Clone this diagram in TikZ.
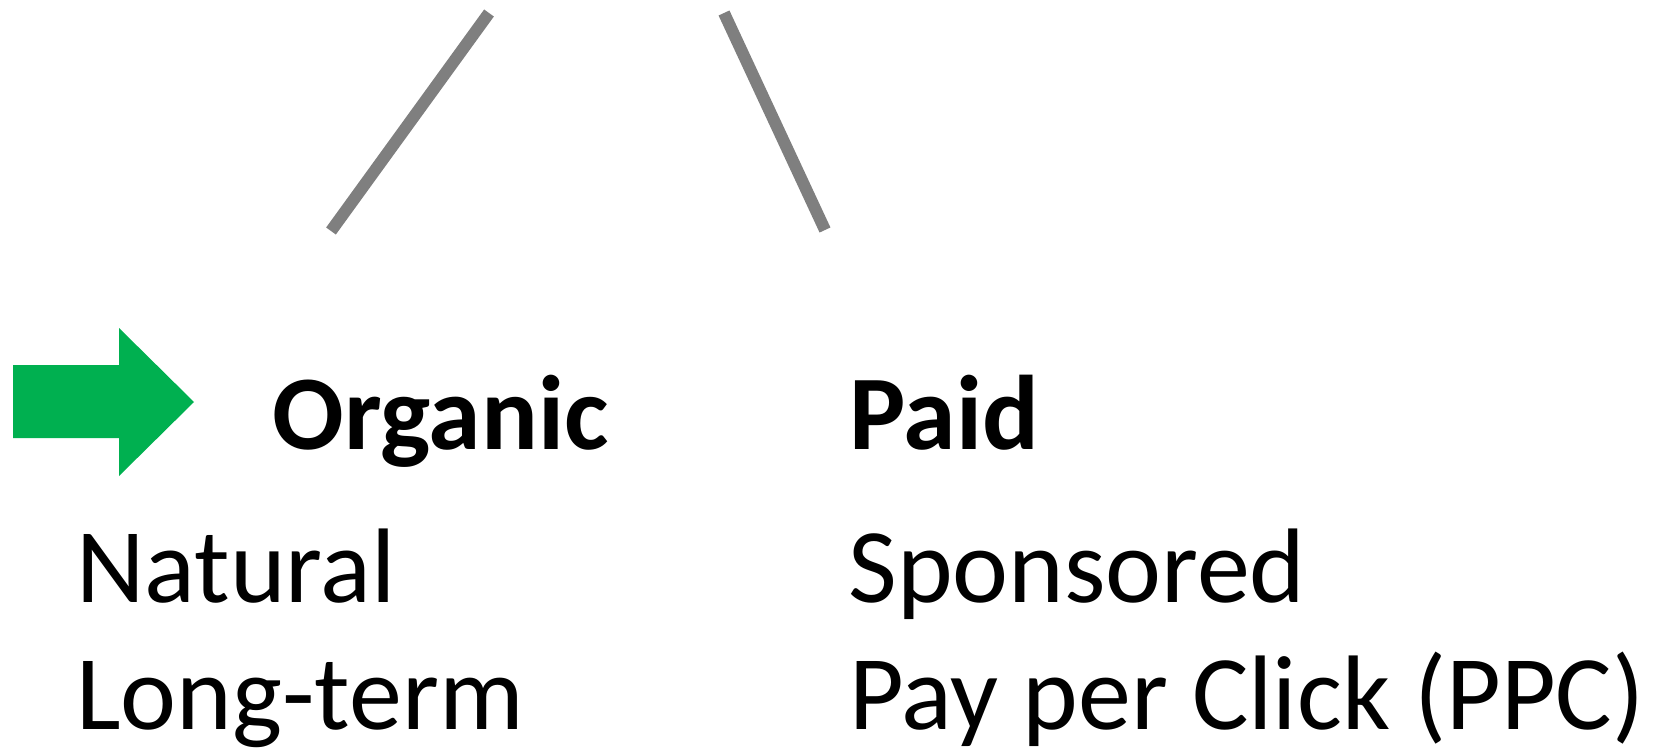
\documentclass[tikz,border=0pt]{standalone}
\usepackage{fontspec}
\setmainfont{Carlito}
\usetikzlibrary{positioning}
\definecolor{officegreen}{HTML}{00B050}
\definecolor{linegray}{HTML}{7F7F7F}

\begin{document}
\begin{tikzpicture}[x=0.5pt,y=-0.5pt,
  branch/.style={draw=linegray,line width=6pt},
  head/.style={font=\fontsize{53}{65}\selectfont\bfseries,anchor=base west,inner sep=0pt},
  item/.style={font=\fontsize{53}{65}\selectfont,anchor=base west,inner sep=0pt}]
  \useasboundingbox (0,0) rectangle (1657,748); % page size

  \coordinate (orgtop) at (489,13) ;   % left branch
  \coordinate (orgend) at (331,231) ;
  \coordinate (paidtop) at (724,13) ;  % right branch
  \coordinate (paidend) at (825,230) ;
  \draw[branch] (orgtop) -- (orgend) ;
  \draw[branch] (paidtop) -- (paidend) ;

  \fill[officegreen] (13,365) -- (119,365) -- (119,328) -- (194,402)
    -- (119,476) -- (119,438) -- (13,438) -- cycle ; % marker arrow

  \node[head] (organic) at (272,449) {Organic};
  \node[head] (paid) at (849,449) {Paid};

  \node[item] (natural) at (76,602) {Natural};
  \node[item] (longterm) at (76,729) {Long-term};
  \node[item] (sponsored) at (848,602) {Sponsored};
  \node[item] (ppc) at (849,729) {Pay per Click (PPC)};
\end{tikzpicture}
\end{document}
